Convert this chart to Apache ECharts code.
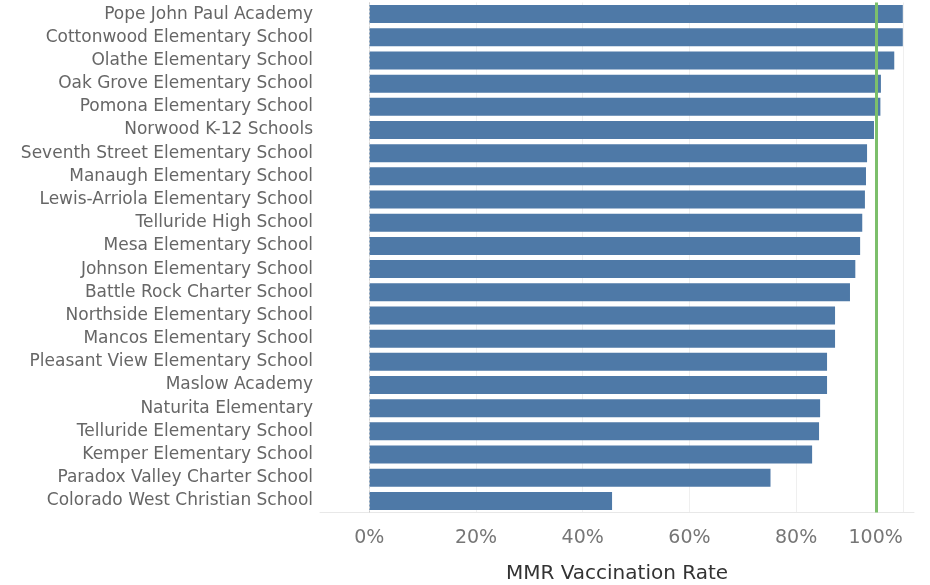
<!DOCTYPE html>
<html>
<head>
<meta charset="utf-8">
<script src="https://cdn.jsdelivr.net/npm/echarts@6/dist/echarts.min.js"></script>
<style>html,body{margin:0;padding:0;background:#fff}#c{width:930px;height:585px}</style>
</head>
<body>
<div id="c"></div>
<script>
const schools = [
  "Pope John Paul Academy","Cottonwood Elementary School","Olathe Elementary School",
  "Oak Grove Elementary School","Pomona Elementary School","Norwood K-12 Schools",
  "Seventh Street Elementary School","Manaugh Elementary School","Lewis-Arriola Elementary School",
  "Telluride High School","Mesa Elementary School","Johnson Elementary School",
  "Battle Rock Charter School","Northside Elementary School","Mancos Elementary School",
  "Pleasant View Elementary School","Maslow Academy","Naturita Elementary",
  "Telluride Elementary School","Kemper Elementary School","Paradox Valley Charter School",
  "Colorado West Christian School"
];
const rates = [
  1.000, 1.000, 0.984, 0.959, 0.958, 0.946, 0.933, 0.931, 0.929, 0.924, 0.920,
  0.911, 0.901, 0.873, 0.873, 0.858, 0.858, 0.845, 0.843, 0.830, 0.752, 0.455
];
const tickValues = [0, 0.2, 0.4, 0.6, 0.8, 1.0];
const targetRate = 0.95;

const chart = echarts.init(document.getElementById('c'), null, {renderer: 'canvas'});
chart.setOption({
  animation: false,
  grid: {left: 320, right: 16, top: 2.5, bottom: 72.5, containLabel: false, outerBoundsMode: 'none'},
  xAxis: {
    type: 'value', min: -0.0925, max: 1.021,
    name: 'MMR Vaccination Rate', nameLocation: 'middle', nameGap: 51,
    nameTextStyle: {color: '#333', fontSize: 20, fontFamily: 'DejaVu Sans'},
    axisLine: {show: true, lineStyle: {color: '#e8e8e8', width: 1}},
    axisTick: {show: false, customValues: tickValues},
    axisLabel: {customValues: tickValues, color: '#767676', fontSize: 19, fontFamily: 'DejaVu Sans', margin: 16,
      alignMaxLabel: 'right',
      formatter: v => Math.round(v * 100) + '%'},
    splitLine: {show: true, lineStyle: {color: '#efefef', width: 1}}
  },
  yAxis: {
    type: 'category', data: schools, inverse: true,
    axisLine: {show: true, lineStyle: {color: '#ececec'}},
    axisTick: {show: false},
    axisLabel: {color: '#666', fontSize: 17, fontFamily: 'DejaVu Sans', margin: 7}
  },
  series: [{
    type: 'bar', data: rates, barWidth: 18,
    itemStyle: {color: '#4e79a7'},
    markLine: {
      silent: true, symbol: 'none', label: {show: false},
      lineStyle: {color: '#7cbf6b', width: 3, type: 'solid'},
      data: [{xAxis: targetRate}]
    }
  }, {
    type: 'line', data: [], markLine: {
      silent: true, symbol: 'none', label: {show: false},
      lineStyle: {color: '#cfcfcf', width: 1, type: [2, 2]},
      data: [{xAxis: 0}]
    }
  }]
});
</script>
</body>
</html>
